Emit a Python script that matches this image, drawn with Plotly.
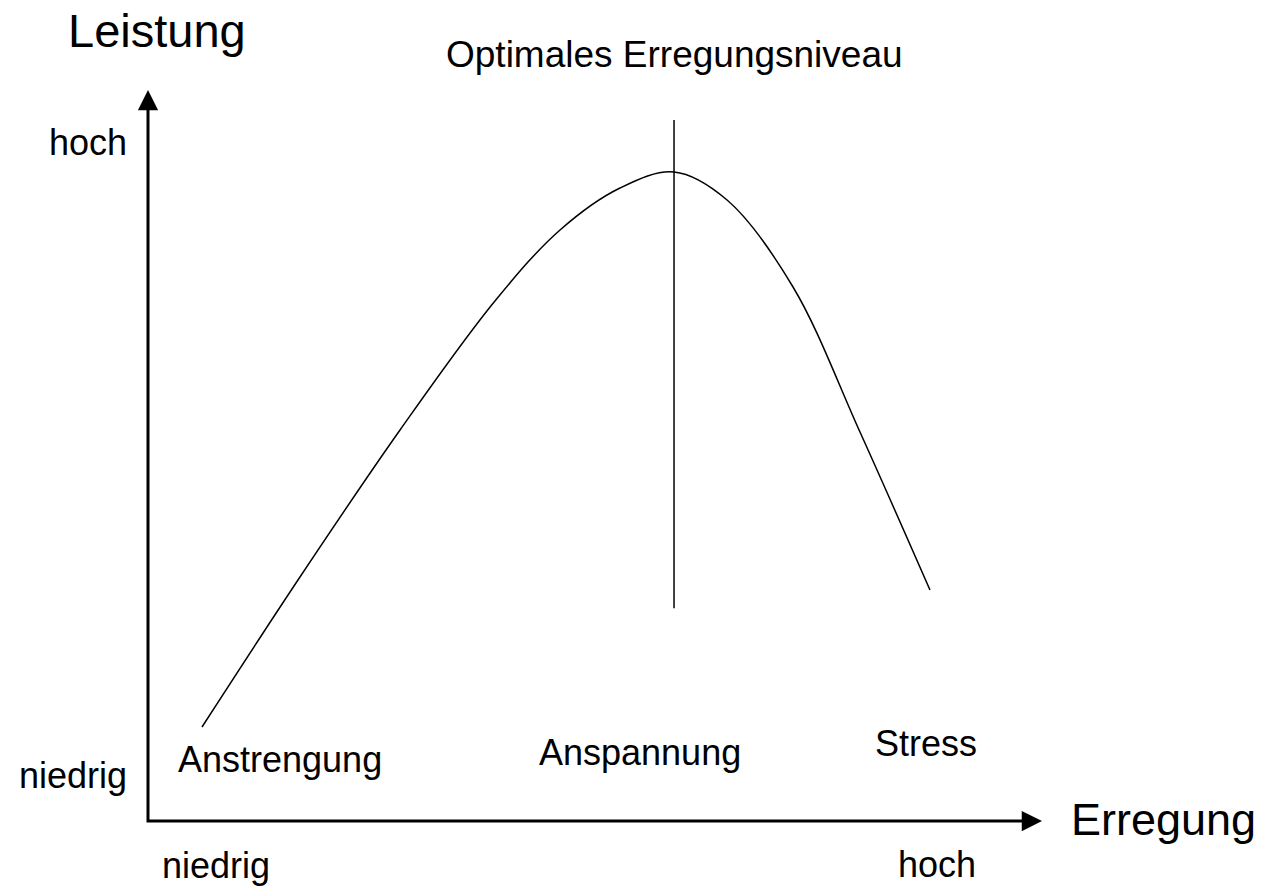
import plotly.graph_objects as go

# Yerkes-Dodson curve: arousal (Erregung) vs. performance (Leistung), 0..100 scale
erregung = [6.04, 17.0, 28.19, 38.81, 46.09, 52.8, 58.84, 64.77, 72.15, 79.64, 87.47]
leistung = [12.86, 33.38, 53.49, 71.14, 80.85, 86.59, 88.78, 84.95, 73.05, 53.21, 31.6]

optimum_x = [58.84, 58.84]
optimum_y = [29.1, 95.9]

axis_x = [0, 0, 98]
axis_y = [98, 0, 0]

zone_labels = ["Anstrengung", "Anspannung", "Stress"]

FONT = "Liberation Sans, Arial, Helvetica, sans-serif"
W, H = 1272, 886

fig = go.Figure()

# axes (L-shape)
fig.add_trace(go.Scatter(x=axis_x, y=axis_y, mode="lines",
                         line=dict(color="black", width=3),
                         hoverinfo="skip", showlegend=False))
# curve
fig.add_trace(go.Scatter(x=erregung, y=leistung, mode="lines",
                         line=dict(color="black", width=1.5, shape="spline", smoothing=1.0),
                         hoverinfo="skip", showlegend=False))
# optimal level line
fig.add_trace(go.Scatter(x=optimum_x, y=optimum_y, mode="lines",
                         line=dict(color="black", width=1.5),
                         hoverinfo="skip", showlegend=False))

# arrowheads
fig.add_annotation(x=0, y=100, ax=0, ay=98.5, xref="x", yref="y", axref="x", ayref="y",
                   showarrow=True, arrowhead=2, arrowwidth=3, arrowsize=1.35,
                   arrowcolor="black", text="")
fig.add_annotation(x=100, y=0, ax=98.5, ay=0, xref="x", yref="y", axref="x", ayref="y",
                   showarrow=True, arrowhead=2, arrowwidth=3, arrowsize=1.35,
                   arrowcolor="black", text="")


def label(text, px, py, size):
    fig.add_annotation(x=px / W, y=1 - py / H, xref="paper", yref="paper",
                       text=text, showarrow=False, xanchor="center", yanchor="middle",
                       font=dict(family=FONT, size=size, color="black"))


label("Leistung", 156.5, 30, 47)
label("Optimales Erregungsniveau", 674.5, 54.5, 37)
label("hoch", 88, 142.4, 36)
label("niedrig", 72.5, 775.4, 36)
label(zone_labels[0], 279.5, 759.4, 36)
label(zone_labels[1], 640, 752.4, 36)
label(zone_labels[2], 926, 743.4, 36)
label("Erregung", 1163, 819, 45)
label("niedrig", 216, 865.4, 36)
label("hoch", 936.5, 864.4, 36)

fig.update_xaxes(range=[-148 / 8.94, (W - 148) / 8.94], visible=False, fixedrange=True)
fig.update_yaxes(range=[-(H - 821) / 7.31, 821 / 7.31], visible=False, fixedrange=True)

fig.update_layout(width=W, height=H, autosize=False,
                  margin=dict(l=0, r=0, t=0, b=0, pad=0),
                  paper_bgcolor="white", plot_bgcolor="white",
                  showlegend=False)

fig.write_html("out.html", config={"displayModeBar": False},
               post_script="document.body.style.margin='0';")
